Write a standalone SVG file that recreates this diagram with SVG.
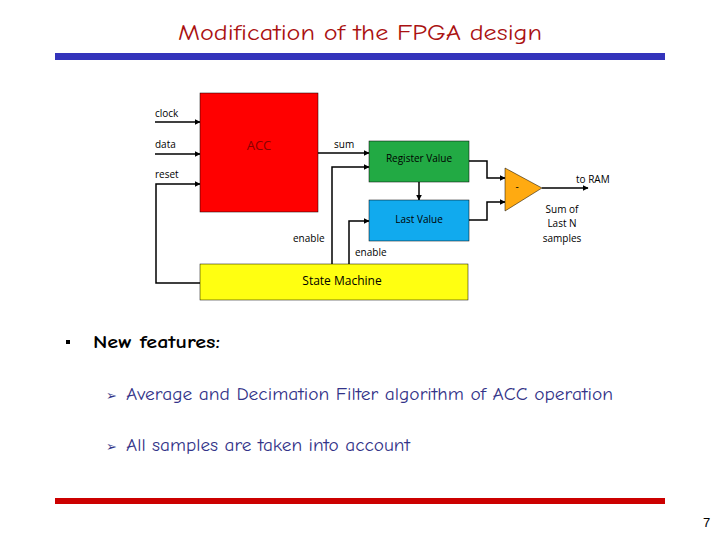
<svg xmlns="http://www.w3.org/2000/svg" width="720" height="540" viewBox="0 0 720 540">
<defs>
<marker id="ah" viewBox="0 0 10 10" refX="9" refY="5" markerWidth="4" markerHeight="4" orient="auto"><path d="M0,0 L10,5 L0,10 z" fill="#000"/></marker>
<style>
.w{stroke:#000;stroke-width:1.5;fill:none}
.a{marker-end:url(#ah)}
.l{font-family:"Open Sans","Liberation Sans",sans-serif;font-size:10px;fill:#000}
.c{font-family:"Comic Neue","DejaVu Sans",sans-serif}
</style>
</defs>
<rect width="720" height="540" fill="#fff"/>
<text x="178" y="40" textLength="364" lengthAdjust="spacingAndGlyphs" class="c" font-size="23" fill="#aa1111">Modification of the FPGA design</text>
<rect x="55" y="53" width="610" height="7" fill="#3333bb"/>
<rect x="55" y="498" width="610" height="6" fill="#cc0000"/>
<g id="connectors">
<path class="w a" d="M155,122 H200"/>
<path class="w a" d="M155,154 H200"/>
<path class="w a" d="M200,283 H156 V184 H200"/>
<path class="w a" d="M318,153 H369"/>
<path class="w a" d="M332,264 V167 H369"/>
<path class="w a" d="M349,264 V221 H369"/>
<path class="w a" d="M419,182 V200"/>
<path class="w a" d="M469,161 H487 V178 H505"/>
<path class="w a" d="M469,220 H487 V202 H505"/>
<path class="w a" d="M542,188 H588"/>
</g>
<text class="l" x="155" y="117">clock</text>
<text class="l" x="155" y="148">data</text>
<text class="l" x="155" y="178">reset</text>
<text class="l" x="334" y="148">sum</text>
<text class="l" x="293" y="242">enable</text>
<text class="l" x="355" y="256">enable</text>
<text class="l" x="576" y="183">to RAM</text>
<text class="l" x="562" y="213" text-anchor="middle">Sum of</text>
<text class="l" x="562" y="227" text-anchor="middle">Last N</text>
<text class="l" x="562" y="242" text-anchor="middle">samples</text>
<g id="acc"><rect x="200" y="93" width="118" height="119" fill="#ff0000" stroke="#000" stroke-width="0.5"/><text x="259" y="150" text-anchor="middle" font-family="Open Sans,Liberation Sans,sans-serif" font-size="13" fill="#880000">ACC</text></g>
<g id="register"><rect x="369" y="141" width="100" height="41" fill="#22aa44" stroke="#000" stroke-width="0.5"/><text class="l" x="419" y="162" text-anchor="middle">Register Value</text></g>
<g id="last"><rect x="369" y="200" width="100" height="41" fill="#11aaee" stroke="#000" stroke-width="0.5"/><text class="l" x="419" y="223" text-anchor="middle">Last Value</text></g>
<g id="sub"><path d="M505,168 L542,188 L505,211 z" fill="#ffaa11" stroke="#000" stroke-width="0.5"/><text class="l" x="517" y="190" text-anchor="middle">-</text></g>
<g id="sm"><rect x="200" y="264" width="268" height="36" fill="#ffff11" stroke="#000" stroke-width="0.5"/><text x="342" y="285" text-anchor="middle" font-family="Open Sans,Liberation Sans,sans-serif" font-size="12">State Machine</text></g>
<rect x="66" y="340" width="4" height="4" fill="#000"/>
<text x="93" y="348" textLength="127" lengthAdjust="spacingAndGlyphs" class="c" font-size="18" font-weight="bold">New features:</text>
<text x="106" y="400" class="c" font-size="13" fill="#333388">➢</text>
<text x="126" y="400" textLength="487" lengthAdjust="spacingAndGlyphs" class="c" font-size="18" fill="#333388">Average and Decimation Filter algorithm of ACC operation</text>
<text x="106" y="451" class="c" font-size="13" fill="#333388">➢</text>
<text x="126" y="451" textLength="284" lengthAdjust="spacingAndGlyphs" class="c" font-size="18" fill="#333388">All samples are taken into account</text>
<text x="703" y="527" font-family="Liberation Sans,sans-serif" font-size="13">7</text>
</svg>
